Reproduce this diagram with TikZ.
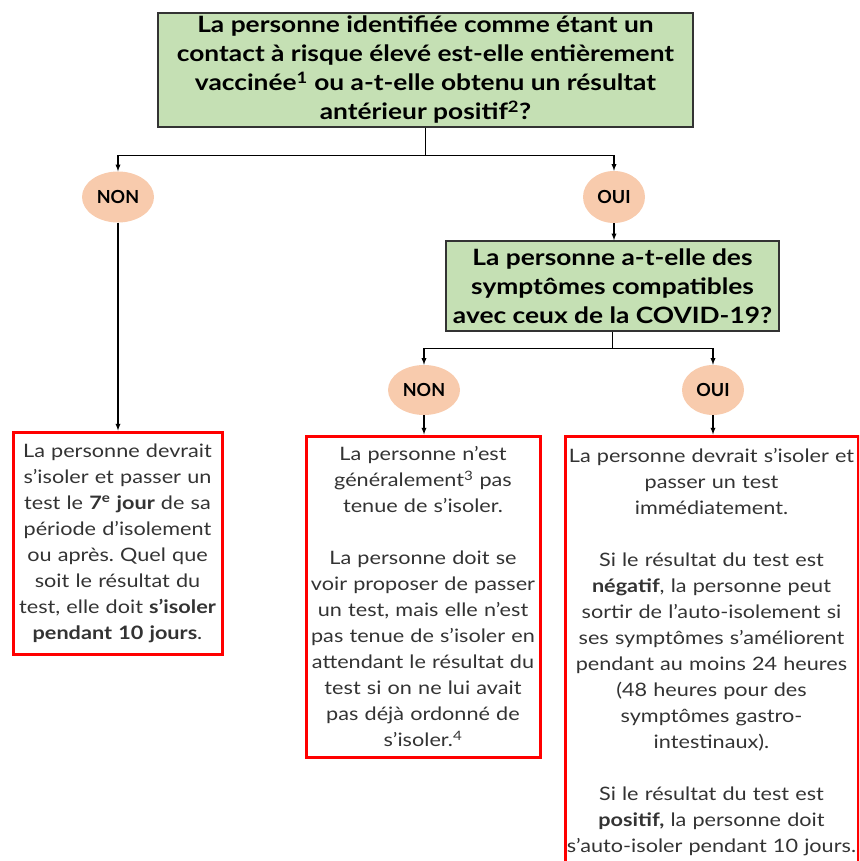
\documentclass[tikz,border=0pt]{standalone}
\usepackage{fontspec}
\setmainfont{Lato}[FakeStretch=1.17]
\newfontfamily\labelfont{Lato}
\usetikzlibrary{shapes.geometric}
\usetikzlibrary{arrows}
\frenchspacing

\definecolor{qgreen}{HTML}{C5E0B4}
\definecolor{peach}{HTML}{F8CBAD}
\definecolor{bodygray}{HTML}{333333}

\tikzset{
  question/.style={draw=black!80, line width=1.5pt, fill=qgreen, align=center, inner sep=0pt,
    font=\bfseries\fontsize{22.5}{29}\selectfont},
  answer/.style={ellipse, fill=peach, inner sep=0pt, font=\labelfont\bfseries\fontsize{18}{22}\selectfont},
  advice/.style={draw=red, line width=3pt, align=center, inner sep=0pt, text=bodygray,
    font=\fontsize{18.5}{26}\selectfont},
  arr/.style={line width=1.3pt, -latex},
}

\begin{document}
\begin{tikzpicture}[x=1pt,y=-1pt]
\useasboundingbox (0,0) rectangle (859,861);
\clip (0,0) rectangle (859,861);

  \node[question, minimum width=535pt, minimum height=114pt] (q1) at (425.5,70)
    {La personne identifiée comme étant un\\contact à risque élevé est-elle entièrement\\vaccinée\textsuperscript{1} ou a-t-elle obtenu un résultat\\antérieur positif\textsuperscript{2}?};
  \node[answer, minimum width=72pt, minimum height=51pt] (non1) at (118,197) {NON};
  \node[answer, minimum width=62pt, minimum height=52pt] (oui1) at (614,197) {OUI};

  \node[question, minimum width=333pt, minimum height=90pt] (q2) at (612.5,286)
    {La personne a-t-elle des\\symptômes compatibles\\avec ceux de la COVID-19?};
  \node[answer, minimum width=72pt, minimum height=50pt] (non2) at (424,390) {NON};
  \node[answer, minimum width=62pt, minimum height=50pt] (oui2) at (713,390) {OUI};

  \node[advice, text width=209pt, minimum height=222pt] (res1) at (117.5,543)
    {La personne devrait\\s'isoler et passer un\\test le \textbf{7\textsuperscript{e} jour} de sa\\période d'isolement\\ou après. Quel que\\soit le résultat du\\test, elle doit \textbf{s'isoler}\\\textbf{pendant 10 jours}.};
  \node[advice, text width=234pt, minimum height=321pt] (res2) at (423,596.5)
    {La personne n'est\\généralement\textsuperscript{3} pas\\tenue de s'isoler.\\~\\La personne doit se\\voir proposer de passer\\un test, mais elle n'est\\pas tenue de s'isoler en\\attendant le résultat du\\test si on ne lui avait\\pas déjà ordonné de\\s'isoler.\textsuperscript{4}};
  \node[advice, text width=293pt, minimum height=433pt] (res3) at (711.5,652.5)
    {La personne devrait s'isoler et\\passer un test\\immédiatement.\\~\\Si le résultat du test est\\\textbf{négatif}, la personne peut\\sortir de l'auto-isolement si\\ses symptômes s'améliorent\\pendant au moins 24 heures\\(48 heures pour des\\symptômes gastro-\\intestinaux).\\~\\Si le résultat du test est\\\textbf{positif,} la personne doit\\s'auto-isoler pendant 10 jours.};

  \draw[arr] (q1.south) -- ++(0,28) -| (non1.north);
  \draw[arr] (q1.south) -- ++(0,28) -| (oui1.north);
  \draw[arr] (non1.south) -- (non1.south |- res1.north);
  \draw[arr] (oui1.south) -- (oui1.south |- q2.north);
  \draw[arr] (q2.south) -- ++(0,17) -| (non2.north);
  \draw[arr] (q2.south) -- ++(0,17) -| (oui2.north);
  \draw[arr] (non2.south) -- (non2.south |- res2.north);
  \draw[arr] (oui2.south) -- (oui2.south |- res3.north);

\end{tikzpicture}
\end{document}
